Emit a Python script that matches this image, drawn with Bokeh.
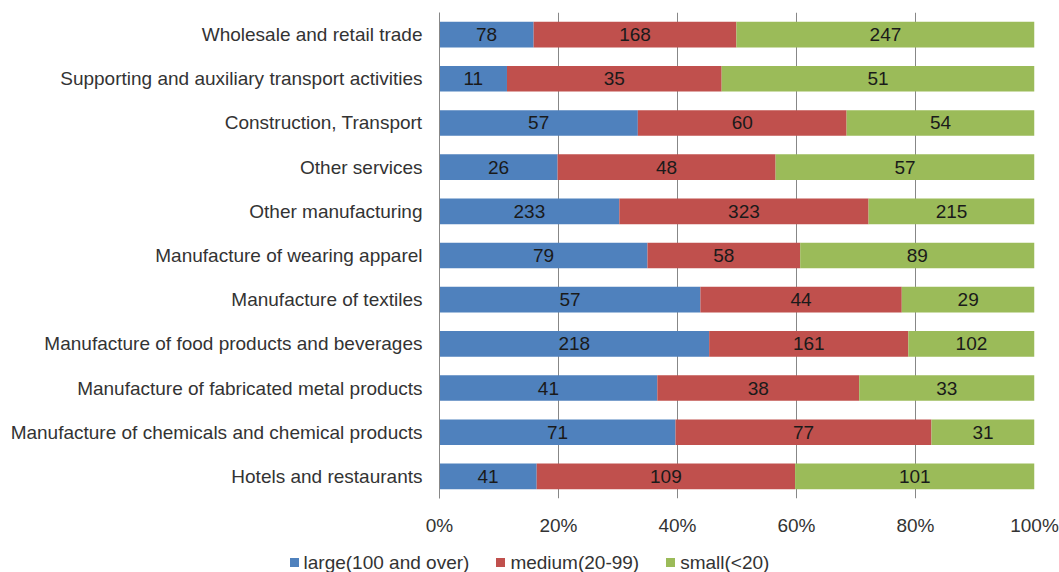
from bokeh.plotting import figure
from bokeh.layouts import column
from bokeh.models import (ColumnDataSource, FactorRange, Range1d, Div,
                          FixedTicker, NumeralTickFormatter)
from bokeh.core.properties import value
from bokeh.embed import file_html
from bokeh.resources import INLINE

# ---- data (top to bottom as shown) ----
categories = [
    "Wholesale and retail trade",
    "Supporting and auxiliary transport activities",
    "Construction, Transport",
    "Other services",
    "Other manufacturing",
    "Manufacture of wearing apparel",
    "Manufacture of textiles",
    "Manufacture of food products and beverages",
    "Manufacture of fabricated metal products",
    "Manufacture of chemicals and chemical products",
    "Hotels and restaurants",
]
large = [78, 11, 57, 26, 233, 79, 57, 218, 41, 71, 41]
medium = [168, 35, 60, 48, 323, 58, 44, 161, 38, 77, 109]
small = [247, 51, 54, 57, 215, 89, 29, 102, 33, 31, 101]
series_names = ["large(100 and over)", "medium(20-99)", "small(<20)"]
x_ticks = [0, 0.2, 0.4, 0.6, 0.8, 1.0]

colors = ["#4F81BD", "#C0504D", "#9BBB59"]
FONT = "Liberation Sans"
FS = "19px"

cats_bottom_up = categories[::-1]

p = figure(width=1059, height=540,
           y_range=FactorRange(factors=cats_bottom_up),
           x_range=Range1d(0, 1),
           min_border_left=439, min_border_right=25,
           min_border_top=12, min_border_bottom=42,
           output_backend="svg", toolbar_location=None)
p.outline_line_color = None
p.background_fill_color = "white"
p.border_fill_color = "white"

series = [large, medium, small]
label_x, label_y, label_t = [], [], []
for si, vals in enumerate(series):
    lefts, rights = [], []
    for ci, cat in enumerate(categories):
        tot = large[ci] + medium[ci] + small[ci]
        before = sum(series[k][ci] for k in range(si))
        l = before / tot
        r = (before + vals[ci]) / tot
        lefts.append(l)
        rights.append(r)
        label_x.append((l + r) / 2)
        label_y.append(cat)
        label_t.append(str(vals[ci]))
    src = ColumnDataSource(dict(y=categories, left=lefts, right=rights))
    p.hbar(y="y", left="left", right="right", height=0.58, source=src,
           fill_color=colors[si], line_color=None)

lab_src = ColumnDataSource(dict(x=label_x, y=label_y, t=label_t))
p.text(x="x", y="y", text="t", source=lab_src, text_align="center",
       text_baseline="middle", text_font=value(FONT), text_font_size=FS,
       text_color="#1a1a1a")

# x axis
xa = p.xaxis[0]
xa.ticker = FixedTicker(ticks=x_ticks)
xa.formatter = NumeralTickFormatter(format="0%")
xa.axis_line_color = None
xa.major_tick_line_color = None
xa.minor_tick_line_color = None
xa.major_tick_out = 0
xa.major_tick_in = 0
xa.major_label_text_font = FONT
xa.major_label_text_font_size = FS
xa.major_label_text_color = "#333333"
xa.major_label_standoff = 16

p.xgrid.ticker = FixedTicker(ticks=x_ticks)
p.xgrid.grid_line_color = "#878787"
p.ygrid.grid_line_color = None

# y axis
ya = p.yaxis[0]
ya.axis_line_color = "#878787"
ya.major_tick_line_color = None
ya.minor_tick_line_color = None
ya.major_tick_out = 0
ya.major_tick_in = 0
ya.major_label_text_font = FONT
ya.major_label_text_font_size = FS
ya.major_label_text_color = "#333333"
ya.major_label_standoff = 17

# ---- legend strip below the chart (centred on the whole picture) ----
items_html = "".join(
    '<span style="display:inline-flex;align-items:center;margin:0 13.5px;">'
    f'<span style="display:inline-block;width:9px;height:9px;background:{c};margin-right:5px;"></span>'
    f'{nm}</span>'
    for nm, c in zip(series_names, colors))
legend_div = Div(
    text=('<div style="width:1059px;text-align:center;white-space:nowrap;'
          f'padding-top:10px;line-height:22px;font-family:\'{FONT}\';'
          f'font-size:{FS};color:#333333;">{items_html}</div>'),
    width=1059, height=32, margin=0)

open("out.html", "w").write(file_html(column(p, legend_div, spacing=0), INLINE))
